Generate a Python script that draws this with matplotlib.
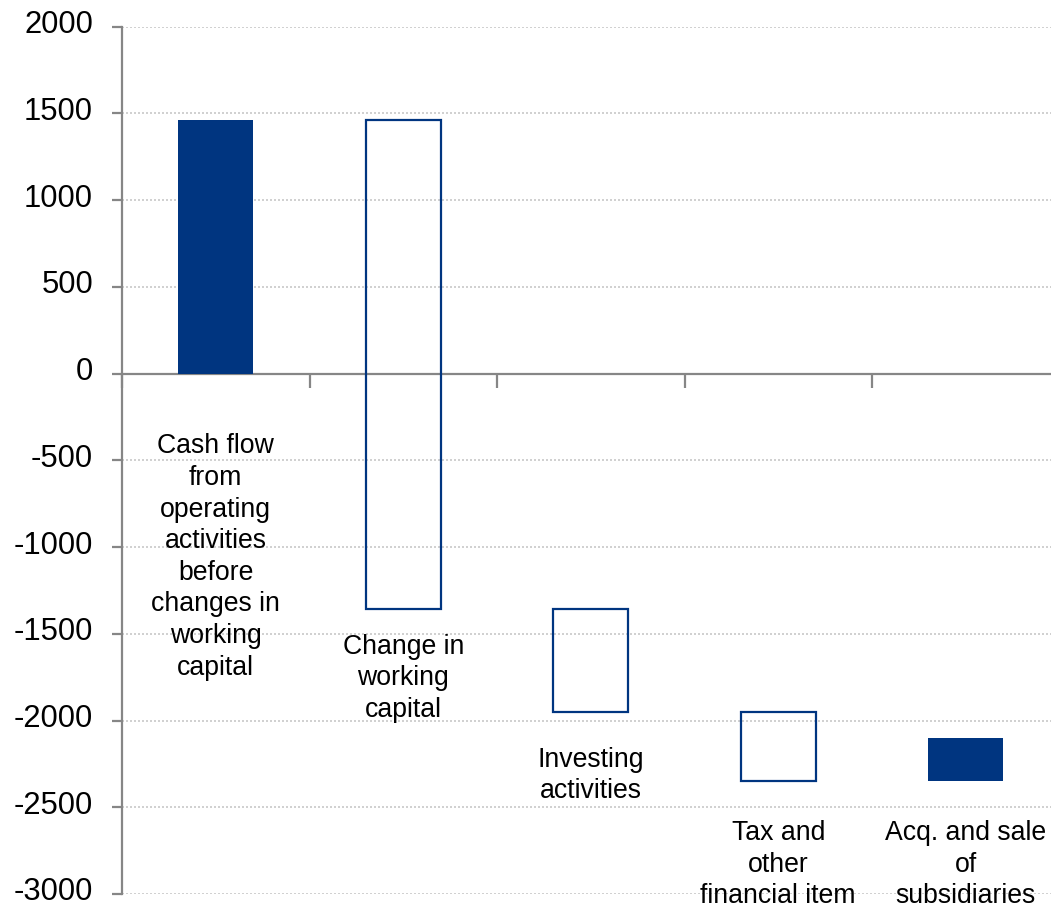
import matplotlib
matplotlib.use("Agg")
import matplotlib.pyplot as plt
import numpy as np

plt.rcParams['font.family'] = ['Liberation Sans', 'DejaVu Sans']

# ---- data ----
categories = [
    "Cash flow\nfrom\noperating\nactivities\nbefore\nchanges in\nworking\ncapital",
    "Change in\nworking\ncapital",
    "Investing\nactivities",
    "Tax and\nother\nfinancial item",
    "Acq. and sale\nof\nsubsidiaries",
]
flows = [1465, -2820, -597, -399, 251]
filled = [True, False, False, False, True]
yticks = [2000, 1500, 1000, 500, 0, -500, -1000, -1500, -2000, -2500, -3000]

# ---- layout / style ----
label_top = [-345, -1500, -2150, -2575, -2575]
navy = '#003580'
grey = '#868686'

ends = np.cumsum(flows)
starts = np.concatenate([[0], ends[:-1]])
bottoms = np.minimum(starts, ends)
heights = np.abs(np.array(flows))
x = np.arange(len(categories))

fig = plt.figure(figsize=(10.51, 9.10), dpi=100)
ax = fig.add_axes([122/1051, 16/910, 937.5/1051, 867.3/910])

for xi, b, h, f in zip(x, bottoms, heights, filled):
    if f:
        ax.bar(xi, h, bottom=b, width=0.4, color=navy, edgecolor='none', zorder=3)
    else:
        ax.bar(xi, h, bottom=b, width=0.4, facecolor='none', edgecolor=navy,
               linewidth=1.6, zorder=3)

for xi, ly, lab in zip(x, label_top, categories):
    ax.text(xi, ly, lab, ha='center', va='top', fontsize=19.2,
            linespacing=1.28, zorder=4)

ax.set_xlim(-0.5, 4.5)
ax.set_ylim(-3000, 2000)
ax.set_yticks(yticks)
ax.set_yticklabels([])
ax.set_xticks(np.arange(-0.5, 5.0, 1.0))
ax.set_xticklabels([])

# y tick labels drawn as annotations (slightly raised so none is clipped)
for t in yticks:
    ax.annotate(str(t), xy=(0, t), xycoords=('axes fraction', 'data'),
                xytext=(-20.8, 1.1), textcoords='offset points',
                ha='right', va='center', fontsize=22.3, annotation_clip=False)

ax.yaxis.grid(True, linestyle=(0, (1.2, 1.2)), color='#c8c8c8', linewidth=1.2, zorder=0)
ax.set_axisbelow(True)

for s in ['top', 'right']:
    ax.spines[s].set_visible(False)
ax.spines['left'].set_color(grey)
ax.spines['left'].set_linewidth(1.6)
ax.spines['bottom'].set_position(('data', 0))
ax.spines['bottom'].set_color(grey)
ax.spines['bottom'].set_linewidth(1.6)
ax.spines['bottom'].set_zorder(2)

ax.tick_params(axis='y', direction='out', length=7.5, width=1.6, color=grey)
ax.tick_params(axis='x', direction='out', length=10, width=1.6, color=grey)

fig.savefig('out.png', dpi=100)
